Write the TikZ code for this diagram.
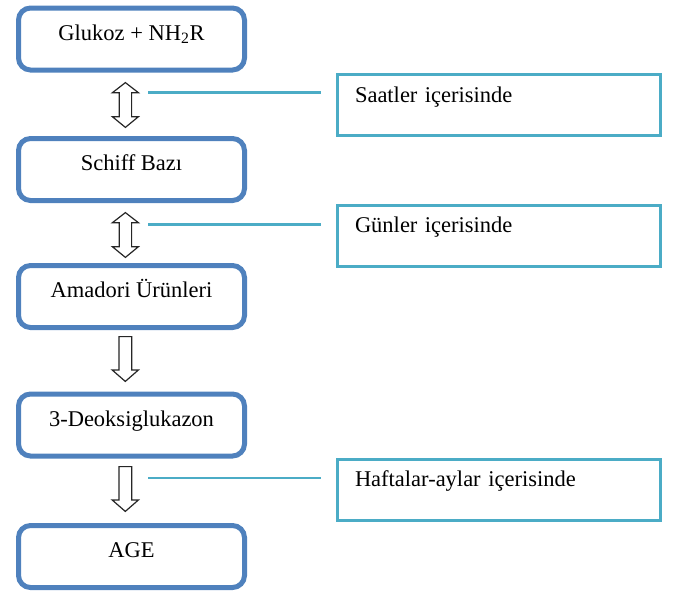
\documentclass[tikz,border=0pt]{standalone}
\usepackage{fontspec}
\setmainfont{Liberation Serif}
\definecolor{boxblue}{HTML}{4F81BD}
\definecolor{calloutteal}{HTML}{4BACC6}
\begin{document}
\begin{tikzpicture}[x=1pt,y=-1pt,
  stage/.style={draw=boxblue, line width=5pt, rounded corners=12pt,
    minimum width=226pt, minimum height=62pt, inner sep=0pt,
    text height=16pt, text depth=14pt, font=\fontsize{22.5}{27}\selectfont},
  note/.style={draw=calloutteal, line width=3pt, minimum height=61pt,
    inner xsep=17.5pt, inner ysep=0pt, text width=288pt, align=left,
    text height=10pt, text depth=16pt, font=\fontsize{22.5}{27}\selectfont},
  leader/.style={draw=calloutteal, line width=2.5pt, shorten >=15.5pt},
  blockarrow/.style={draw=black!85, line width=1.2pt, fill=white, line join=miter}]
\useasboundingbox (0,0) rectangle (675,592);

% stages
\node[stage] (s1) at (131.5,39) {Glukoz + NH\textsubscript{2}R};
\node[stage] (s2) at (131.5,169.5) {Schiff Bazı};
\node[stage] (s3) at (131.5,296.5) {Amadori Ürünleri};
\node[stage] (s4) at (131.5,425) {3-Deoksiglukazon};
\node[stage] (s5) at (131.5,556.5) {AGE};

% callouts
\node[note] (n1) at (499,105) {Saatler içerisinde};
\node[note] (n2) at (499,235.5) {Günler içerisinde};
\node[note] (n3) at (499,489.5) {Haftalar-aylar\hspace{7.6pt}içerisinde};

% leaders
\coordinate (l1) at (148,92.5);
\coordinate (l2) at (148,224.5);
\coordinate (l3) at (148,478);
\draw[leader] (l1) -- (n1.west |- l1);
\draw[leader] (l2) -- (n2.west |- l2);
\draw[leader] (l3) -- (n3.west |- l3);

% double arrows
\foreach \dy in {0,130}{
  \begin{scope}[shift={(0,\dy)}]
    \draw[blockarrow] (125.4,82.6) -- (138.4,92.7) -- (131.6,92.7) -- (131.6,116.7)
      -- (138.4,116.7) -- (125.4,127.4) -- (112.4,116.7) -- (119.2,116.7)
      -- (119.2,92.7) -- (112.4,92.7) -- cycle;
  \end{scope}
}
% single arrows
\foreach \dy in {0,130}{
  \begin{scope}[shift={(0,\dy)}]
    \draw[blockarrow] (118.9,336.6) -- (131.7,336.6) -- (131.7,370) -- (138.4,370)
      -- (125.3,381.4) -- (112.2,370) -- (118.9,370) -- cycle;
  \end{scope}
}
\end{tikzpicture}
\end{document}
